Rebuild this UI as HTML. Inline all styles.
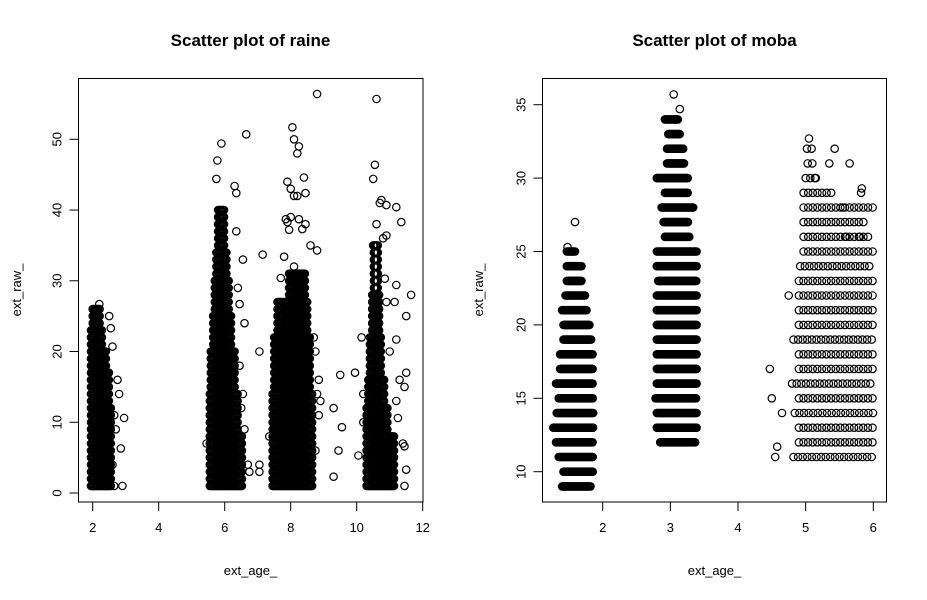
<!DOCTYPE html>
<html><head><meta charset="utf-8"><style>
html,body{margin:0;padding:0;background:#fff;}
svg{display:block;font-family:"Liberation Sans",Arial,sans-serif;}
</style></head><body>
<svg id="svg" width="927" height="600" viewBox="0 0 927 600" xmlns="http://www.w3.org/2000/svg">
<text x="250.5" y="46" font-size="17" font-weight="bold" text-anchor="middle">Scatter plot of raine</text>
<text x="714.5" y="46" font-size="17" font-weight="bold" text-anchor="middle">Scatter plot of moba</text>
<text x="250.5" y="575" font-size="13" text-anchor="middle">ext_age_</text>
<text x="714.5" y="575" font-size="13" text-anchor="middle">ext_age_</text>
<text transform="translate(21,290) rotate(-90)" font-size="13" text-anchor="middle">ext_raw_</text>
<text transform="translate(483,290) rotate(-90)" font-size="13" text-anchor="middle">ext_raw_</text>
<g id="left"></g>
<g id="right"></g>
</svg>
<script>
// ---- raine data ----
const raineXTicks = [2, 4, 6, 8, 10, 12];
const raineYTicks = [0, 10, 20, 30, 40, 50];
// dense blocks: [yMin, yMax, xMin, xMax]
const raineBlocks = [
  [1,20,1.95,2.4],[21,23,1.95,2.3],[24,26,2.0,2.22],[1,12,2.4,2.55],[13,17,2.4,2.5],
  [1,14,5.55,6.4],[15,20,5.58,6.3],[21,25,5.65,6.2],[26,30,5.7,6.12],[31,34,5.75,6.05],[35,40,5.8,6.0],[1,8,6.4,6.52],
  [1,14,7.45,8.65],[15,22,7.5,8.6],[23,27,7.6,8.5],[28,31,7.95,8.45],
  [1,12,10.3,10.95],[13,16,10.35,10.85],[17,22,10.4,10.75],[23,28,10.47,10.7],[29,35,10.52,10.65],[1,8,10.95,11.15]
];
const raineOutX = [2.9,2.95,2.85,2.8,2.75,2.5,2.55,2.6,2.2,5.75,5.78,5.9,6.65,6.3,6.35,6.35,6.55,6.6,6.45,6.4,6.7,6.75,5.45,7.05,7.15,7.05,7.05,8.8,8.05,8.1,8.25,8.2,8.4,7.9,8.0,8.1,8.2,8.45,7.85,7.9,8.0,8.25,8.45,7.95,8.35,8.6,8.8,7.8,8.1,7.7,8.85,8.9,8.85,7.35,9.3,9.3,9.45,9.5,9.55,9.95,10.05,10.2,10.2,10.15,10.6,10.55,10.5,10.7,10.75,10.9,11.2,11.35,10.8,10.9,10.6,10.5,10.85,11.2,11.65,11.5,11.5,11.45,11.2,10.9,11.15,11.4,11.45,11.5,11.45,11.25,6.5,6.55,6.6,6.45,8.75,8.8,8.7,8.75,2.6,2.65,2.7,2.65,11.2,11.3,11.1,11.0];
const raineOutY = [1,10.6,6.3,14,16,25,23.3,20.7,26.7,44.4,47,49.4,50.7,43.4,42.4,37,33,24,26.7,29,4,3,7,20,33.7,4,3,56.4,51.7,50,49,48,44.6,44,43,42,42,42.4,38.7,38.3,39,38.7,38,37.2,37.3,35,34.3,33.4,32,30.4,16,13,11,8,12,2.3,6,16.7,9.3,17,5.3,14,10,22,55.7,46.4,44.4,41,41.4,40.7,40.4,38.3,36,36.4,38,35,30.3,29.4,28,25,17,15,21.7,27,27,7,6.6,3.3,1,10.6,12,14,9,18,20,14,22,6,4,11,9,1,13,16,4,20];

// ---- moba data ----
const mobaXTicks = [2, 3, 4, 5, 6];
const mobaYTicks = [10, 15, 20, 25, 30, 35];
// rows: [y, xMin, xMax]
const mobaRowsA = [[9,1.40,1.82],[10,1.42,1.86],[11,1.35,1.86],[12,1.31,1.86],[13,1.27,1.86],[14,1.32,1.86],[15,1.35,1.86],[16,1.31,1.86],[17,1.37,1.86],[18,1.37,1.86],[19,1.42,1.83],[20,1.42,1.81],[21,1.40,1.76],[22,1.45,1.74],[23,1.47,1.69],[24,1.47,1.69],[25,1.47,1.59]];
const mobaRowsB = [[12,2.85,3.37],[13,2.80,3.39],[14,2.80,3.39],[15,2.78,3.39],[16,2.80,3.39],[17,2.80,3.39],[18,2.80,3.39],[19,2.80,3.39],[20,2.80,3.39],[21,2.80,3.39],[22,2.80,3.39],[23,2.82,3.39],[24,2.80,3.39],[25,2.80,3.39],[26,2.92,3.29],[27,2.90,3.26],[28,2.87,3.34],[29,2.92,3.26],[30,2.80,3.26],[31,2.95,3.21],[32,2.95,3.19],[33,2.97,3.14],[34,2.92,3.12]];
const mobaRowsC = [[11,4.82,6.0],[12,4.9,6.0],[13,4.9,6.0],[14,4.84,6.0],[15,4.9,6.0],[16,4.8,6.0],[17,4.9,6.0],[18,4.9,6.0],[19,4.82,6.0],[20,4.9,6.0],[21,4.9,6.0],[22,4.9,6.0],[23,4.9,6.0],[24,4.92,6.0],[25,4.97,6.0],[26,4.97,5.98],[27,4.97,5.9],[28,4.97,6.0],[29,4.97,5.4],[30,5.0,5.15],[31,5.03,5.1],[32,5.02,5.12]];
const mobaOutX = [1.59,1.48,3.14,3.05,4.47,4.5,4.65,4.55,4.58,4.75,5.05,5.43,5.35,5.65,5.83,5.82,5.15,5.55,5.6,5.8];
const mobaOutY = [27,25.3,34.7,35.7,17,15,14,11,11.7,22,32.7,32,31,31,29.3,29,30,28,26,26];

const NS='http://www.w3.org/2000/svg';
function mk(tag, attrs, parent){const e=document.createElementNS(NS,tag);for(const k in attrs)e.setAttribute(k,attrs[k]);parent.appendChild(e);return e;}

function axes(g, box, xs, ys, xTicks, yTicks, pre){
  const r=mk('rect',{x:box.l,y:box.t,width:box.r-box.l,height:box.b-box.t,fill:'none',stroke:'#000','stroke-width':1},g);
  
  
  const xa=mk('g',{},g);
  
  
  mk('line',{x1:xs(xTicks[0]),x2:xs(xTicks[xTicks.length-1]),y1:box.b,y2:box.b,stroke:'#000'},xa);
  xTicks.forEach(v=>{
    mk('line',{x1:xs(v),x2:xs(v),y1:box.b,y2:box.b+9,stroke:'#000'},xa);
    const t=mk('text',{x:xs(v),y:box.b+30,'font-size':13,'text-anchor':'middle'},xa);
    t.textContent=v;
    
    
  });
  const ya=mk('g',{},g);
  
  
  yTicks.forEach(v=>{
    mk('line',{x1:box.l-9,x2:box.l,y1:ys(v),y2:ys(v),stroke:'#000'},ya);
    const t=mk('text',{transform:`translate(${box.l-17},${ys(v)}) rotate(-90)`,'font-size':13,'text-anchor':'middle'},ya);
    t.textContent=v;
    
    
  });
}
function pt(g,x,y,name){
  const c=mk('circle',{cx:x.toFixed(1),cy:y.toFixed(1),r:3.7,fill:'none',stroke:'#000','stroke-width':1.2},g);
  
  
}

// left
const L={l:78.5,r:423,t:78.5,b:502};
const lx=v=>92.7+(v-2)*33.0, ly=v=>493-v*7.074;
const lg=document.getElementById('left');
axes(lg,L,lx,ly,raineXTicks,raineYTicks,'raine');
const lp=mk('g',{},lg);
raineBlocks.forEach(b=>{
  for(let y=b[0];y<=b[1];y++){
    for(let x=b[2];x<=b[3]+1e-9;x+=0.03) pt(lp,lx(x),ly(y),'raine-point');
  }
});
raineOutX.forEach((x,i)=>pt(lp,lx(x),ly(raineOutY[i]),'raine-outlier-point'));

// right
const R={l:542.5,r:886.5,t:78.5,b:502};
const rx=v=>602.7+(v-2)*67.65, ry=v=>471.7-(v-10)*14.68;
const rg=document.getElementById('right');
axes(rg,R,rx,ry,mobaXTicks,mobaYTicks,'moba');
const rp=mk('g',{},rg);
function rows(arr,step,name){arr.forEach(r=>{for(let x=r[1];x<=r[2]+1e-9;x+=step)pt(rp,rx(x),ry(r[0]),name);});}
rows(mobaRowsA,0.012,'moba-point-age2');
rows(mobaRowsB,0.012,'moba-point-age3');
rows(mobaRowsC,0.068,'moba-point-age5');
mobaOutX.forEach((x,i)=>pt(rp,rx(x),ry(mobaOutY[i]),'moba-outlier-point'));
</script>
</body></html>
